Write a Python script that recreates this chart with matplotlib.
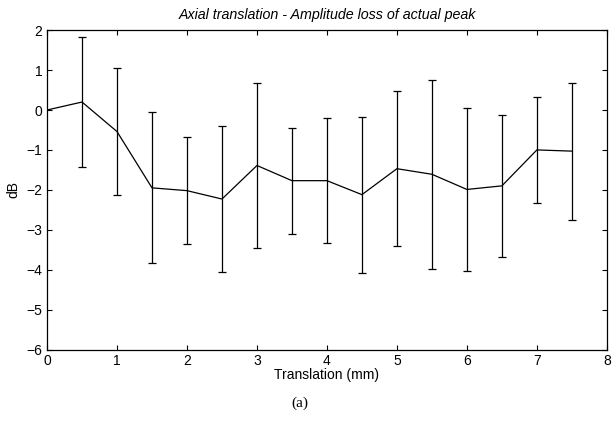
import matplotlib.pyplot as plt
import numpy as np

plt.rcParams['font.family'] = ['Liberation Sans', 'DejaVu Sans']

# translation steps (mm) and mean amplitude loss (dB) with its spread
translation = [0, 0.5, 1, 1.5, 2, 2.5, 3, 3.5, 4, 4.5, 5, 5.5, 6, 6.5, 7, 7.5]
loss_db = [0, 0.2, -0.54, -1.95, -2.02, -2.23, -1.39, -1.77, -1.77, -2.12,
           -1.47, -1.61, -1.99, -1.9, -1.0, -1.03]
spread_db = [0, 1.635, 1.58, 1.895, 1.335, 1.825, 2.06, 1.325, 1.57, 1.955,
             1.94, 2.365, 2.035, 1.785, 1.325, 1.715]

fig = plt.figure(figsize=(6.13, 4.25), dpi=100)
ax = fig.add_axes([0.0767, 0.1776, 0.9133, 0.7514])

ax.plot(translation, loss_db, color='black', linewidth=0.9)
# no spread at the starting position, so bars start at the second point
ax.errorbar(translation[1:], loss_db[1:], yerr=spread_db[1:], fmt='none',
            ecolor='black', elinewidth=0.9, capsize=2.8, capthick=0.9)

ax.set_xlim(0, 8)
ax.set_ylim(-6, 2)
ax.set_xticks(np.arange(0, 9, 1))
ax.set_yticks(np.arange(-6, 3, 1))
ax.tick_params(direction='in', top=True, right=True, length=3.5, width=0.8,
               labelsize=10, pad=3.5)
for s in ax.spines.values():
    s.set_linewidth(0.9)

ax.set_title('Axial translation - Amplitude loss of actual peak',
             fontsize=10.3, style='italic', pad=8)
ax.set_xlabel('Translation (mm)', fontsize=10, labelpad=0)
ax.set_ylabel('dB', fontsize=10, labelpad=4)

fig.text(0.49, 0.05, '(a)', fontsize=11, family='Liberation Serif',
         ha='center', va='center')

fig.savefig('out.png', dpi=100)
